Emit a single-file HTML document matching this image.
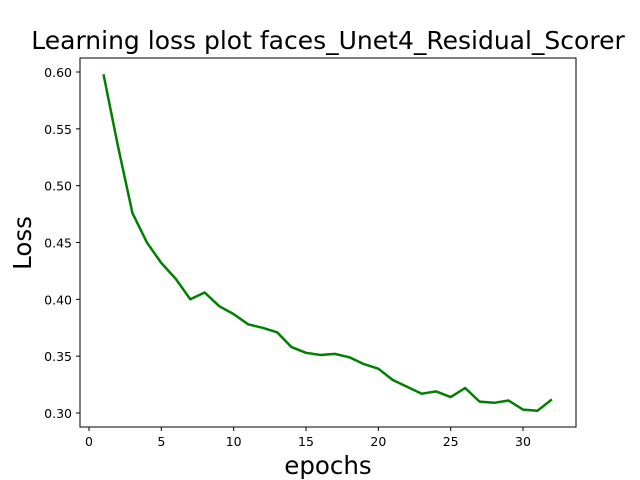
<!DOCTYPE html>
<html><head><meta charset="utf-8"><style>body{margin:0;background:#fff}svg{display:block;font-family:"DejaVu Sans","Liberation Sans",sans-serif}</style></head>
<body>
<svg id="c" width="640" height="480">
<rect width="640" height="480" fill="#fff"/>
<text x="328" y="49" font-size="25" text-anchor="middle">Learning loss plot faces_Unet4_Residual_Scorer</text>
<text x="328" y="474" font-size="24.5" text-anchor="middle">epochs</text>
<text transform="translate(31,243) rotate(-90)" font-size="24.5" text-anchor="middle">Loss</text>
<g id="ticks"></g>
<polyline id="line" fill="none" stroke="#008000" stroke-width="2.5" stroke-linejoin="round"/>
<rect x="80" y="58" width="496" height="369" fill="none" stroke="#000" stroke-width="1"/>
</svg>
<script>
const epochs=[1,2,3,4,5,6,7,8,9,10,11,12,13,14,15,16,17,18,19,20,21,22,23,24,25,26,27,28,29,30,31,32];
const losses=[0.598,0.535,0.476,0.450,0.432,0.418,0.400,0.406,0.394,0.387,0.378,0.375,0.371,0.358,0.353,0.351,0.352,0.349,0.343,0.339,0.329,0.323,0.317,0.319,0.314,0.322,0.310,0.309,0.311,0.303,0.302,0.312];
const xTicks=[0,5,10,15,20,25,30];
const yTicks=[0.30,0.35,0.40,0.45,0.50,0.55,0.60];
const NS="http://www.w3.org/2000/svg";
function xs(v){return 89+v*(523-89)/30;}
function ys(v){return 413-(v-0.30)*(413-72)/0.30;}
const line=document.getElementById('line');
line.setAttribute('points',epochs.map((e,i)=>xs(e).toFixed(1)+','+ys(losses[i]).toFixed(1)).join(' '));
const g=document.getElementById('ticks');
xTicks.forEach(t=>{
 const l=document.createElementNS(NS,'line');
 l.setAttribute('x1',xs(t));l.setAttribute('x2',xs(t));l.setAttribute('y1',427);l.setAttribute('y2',431);l.setAttribute('stroke','#000');
 
 
 g.appendChild(l);
 const tx=document.createElementNS(NS,'text');
 tx.setAttribute('x',xs(t));tx.setAttribute('y',446);tx.setAttribute('font-size','12.5');tx.setAttribute('text-anchor','middle');tx.textContent=t;
 
 
 g.appendChild(tx);
});
yTicks.forEach(t=>{
 const l=document.createElementNS(NS,'line');
 l.setAttribute('x1',76);l.setAttribute('x2',80);l.setAttribute('y1',ys(t));l.setAttribute('y2',ys(t));l.setAttribute('stroke','#000');
 
 
 g.appendChild(l);
 const tx=document.createElementNS(NS,'text');
 tx.setAttribute('x',72);tx.setAttribute('y',ys(t)+5);tx.setAttribute('font-size','12.5');tx.setAttribute('text-anchor','end');tx.textContent=t.toFixed(2);
 
 
 g.appendChild(tx);
});
</script>
</body></html>
